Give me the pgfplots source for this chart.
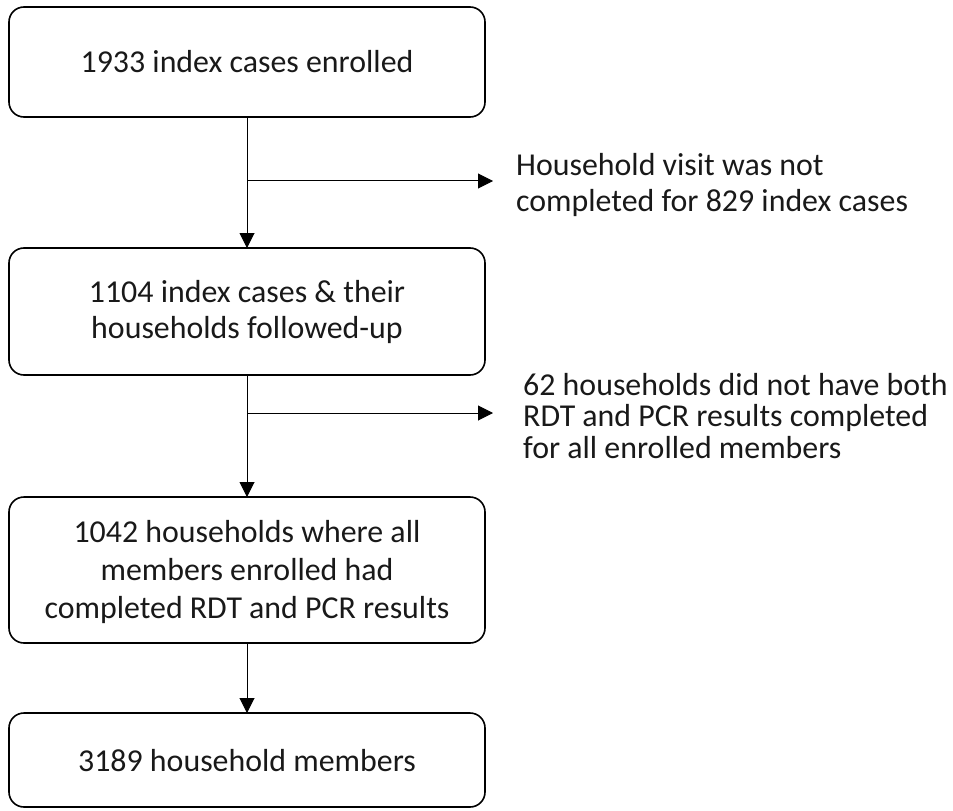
\documentclass[border=0pt]{standalone}
\usepackage{fontspec}
\setmainfont{Carlito}
\usepackage{pgfplots}
\pgfplotsset{compat=1.18}
\usetikzlibrary{arrows.meta}
\begin{document}
\begin{tikzpicture}
\begin{axis}[
  width=953bp, height=811bp, scale only axis,
  xmin=0, xmax=953, ymin=0, ymax=811, y dir=reverse,
  hide axis, clip=false,
]
\path (axis cs:0,0) rectangle (axis cs:953,811);
% boxes
\draw[line width=1.6bp, rounded corners=15bp] (axis cs:9,7) rectangle (axis cs:485,117);
\draw[line width=1.6bp, rounded corners=15bp] (axis cs:9,248) rectangle (axis cs:485,375);
\draw[line width=1.6bp, rounded corners=15bp] (axis cs:9,497) rectangle (axis cs:485,643);
\draw[line width=1.6bp, rounded corners=15bp] (axis cs:9,713) rectangle (axis cs:485,807);
% arrows
\addplot[black, line width=1bp, -{Triangle[length=15bp,width=15bp]}] coordinates {(247,117) (247,248)};
\addplot[black, line width=1bp, -{Triangle[length=15bp,width=15bp]}] coordinates {(247,181) (493,181)};
\addplot[black, line width=1bp, -{Triangle[length=15bp,width=15bp]}] coordinates {(247,375) (247,497)};
\addplot[black, line width=1bp, -{Triangle[length=15bp,width=15bp]}] coordinates {(247,413) (493,413)};
\addplot[black, line width=1bp, -{Triangle[length=15bp,width=15bp]}] coordinates {(247,643) (247,713)};
% texts
\node[align=center, font=\fontsize{32}{36}\selectfont, inner sep=0pt, text=black!90] at (axis cs:247,62) {1933 index cases enrolled};
\node[align=center, font=\fontsize{32}{36}\selectfont, inner sep=0pt, text=black!90] at (axis cs:247,312) {1104 index cases \& their\\households followed-up};
\node[align=center, font=\fontsize{32}{38}\selectfont, inner sep=0pt, text=black!90] at (axis cs:247,572) {1042 households where all\\members enrolled had\\completed RDT and PCR results};
\node[align=center, font=\fontsize{32}{36}\selectfont, inner sep=0pt, text=black!90] at (axis cs:247,761) {3189 household members};
\node[align=left, anchor=west, font=\fontsize{32}{37}\selectfont, inner sep=0pt, text=black!90] at (axis cs:516,185) {Household visit was not\\completed for 829 index cases};
\node[align=left, anchor=west, font=\fontsize{32}{32}\selectfont, inner sep=0pt, text=black!90] at (axis cs:523,416) {62 households did not have both\\RDT and PCR results completed\\for all enrolled members};
\end{axis}
\end{tikzpicture}
\end{document}
